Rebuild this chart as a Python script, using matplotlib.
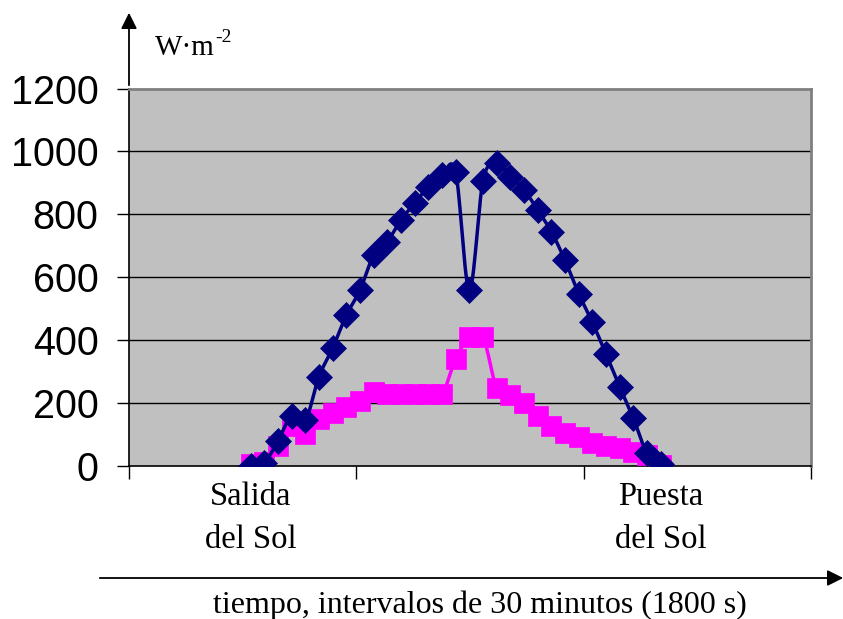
import numpy as np
import matplotlib
matplotlib.use("Agg")
import matplotlib.pyplot as plt
from matplotlib.transforms import blended_transform_factory

# irradiance readings every 30 minutes from sunrise to sunset (W/m2)
intervals = np.arange(31)
global_irr = [0, 10, 80, 160, 145, 284, 375, 479, 559, 670, 713, 782, 835, 888, 925, 934,
              559, 906, 963, 920, 878, 814, 745, 654, 548, 457, 356, 252, 152, 40, 5]
diffuse_irr = [5, 12, 64, 128, 101, 149, 168, 186, 207, 235, 228, 228, 228, 228, 228, 340,
               410, 410, 248, 227, 200, 158, 127, 105, 92, 73, 63, 56, 46, 35, 3]
y_ticks = [0, 200, 400, 600, 800, 1000, 1200]
sun_labels = ["Salida\ndel Sol", "Puesta\ndel Sol"]
x_label = "tiempo, intervalos de 30 minutos (1800 s)"
unit_base, unit_exp = "W·m", "-2"


def smooth(xs, ys, steps=16):
    # Catmull-Rom curve through the points, like a spreadsheet "smoothed line"
    p = np.column_stack([xs, ys]).astype(float)
    p = np.vstack([p[0], p, p[-1]])
    out = []
    t = np.linspace(0, 1, steps, endpoint=False)[:, None]
    for i in range(1, len(p) - 2):
        p0, p1, p2, p3 = p[i - 1], p[i], p[i + 1], p[i + 2]
        seg = 0.5 * (2 * p1 + (-p0 + p2) * t + (2 * p0 - 5 * p1 + 4 * p2 - p3) * t ** 2
                     + (-p0 + 3 * p1 - 3 * p2 + p3) * t ** 3)
        out.append(seg)
    out.append(p[-2][None, :])
    out = np.vstack(out)
    return out[:, 0], out[:, 1]


fig = plt.figure(figsize=(8.43, 6.19), dpi=100)
ax = fig.add_axes([129 / 843, 1 - 466 / 619, (811 - 129) / 843, (466 - 88.5) / 619])
ax.set_facecolor("#C0C0C0")

navy = "#000080"
pink = "#FF00FF"

sx, sy = smooth(intervals, diffuse_irr)
ax.plot(sx, sy, color=pink, lw=2.5, zorder=3)
ax.plot(intervals, diffuse_irr, ls="none", marker="s", ms=14, color=pink,
        mec=pink, mew=0.5, zorder=4)

sx, sy = smooth(intervals, global_irr)
ax.plot(sx, sy, color=navy, lw=2.5, zorder=5)
ax.plot(intervals, global_irr, ls="none", marker="D", ms=13.5, color=navy,
        mec=navy, mew=0.5, zorder=6)

x0, x1 = -8.9, 41.0
ax.set_xlim(x0, x1)
ax.set_ylim(0, 1200)
ax.set_yticks(y_ticks)
ax.set_yticklabels([str(v) for v in y_ticks], family="Liberation Sans", fontsize=28.5)
ax.set_xticks(np.linspace(x0, x1, 4))
ax.set_xticklabels([])
ax.tick_params(axis="y", length=9, width=1, pad=13, direction="out")
ax.tick_params(axis="x", length=9, width=1, direction="out")
for v in y_ticks[1:-1]:
    ax.axhline(v, color="black", lw=1, zorder=1)

ax.spines["top"].set_color("#808080")
ax.spines["top"].set_linewidth(2)
ax.spines["right"].set_color("#808080")
ax.spines["right"].set_linewidth(2)
ax.spines["left"].set_linewidth(1.2)
ax.spines["bottom"].set_linewidth(1.2)

# sunrise / sunset labels under the first and last reading
tr = blended_transform_factory(ax.transData, fig.transFigure)
for xi, lab in zip([intervals[0], intervals[-1]], sun_labels):
    ax.text(xi, 1 - 518 / 619, lab, transform=tr, ha="center", va="center",
            family="Liberation Serif", fontsize=23.5, linespacing=1.55)

# axis arrows
fig.add_artist(matplotlib.patches.FancyArrowPatch(
    (129 / 843, 1 - 88 / 619), (129 / 843, 1 - 10 / 619), transform=fig.transFigure,
    arrowstyle="-|>", mutation_scale=24, color="black", lw=1.3))
fig.add_artist(matplotlib.patches.FancyArrowPatch(
    (97 / 843, 1 - 578 / 619), (846 / 843, 1 - 578 / 619), transform=fig.transFigure,
    arrowstyle="-|>", mutation_scale=24, color="black", lw=1.3))

# unit label with a raised exponent
unit = fig.text(155 / 843, 1 - 48 / 619, unit_base, ha="left", va="center",
                family="Liberation Serif", fontsize=21)
fig.add_artist(matplotlib.text.Annotation(
    unit_exp, xy=(1, 1), xycoords=unit, xytext=(0.5, 4), textcoords="offset points",
    ha="left", va="top", family="Liberation Serif", fontsize=14))
fig.text(480 / 843, 1 - 605 / 619, x_label, ha="center", va="center",
         family="Liberation Serif", fontsize=23)

fig.savefig("out.png", dpi=100)
